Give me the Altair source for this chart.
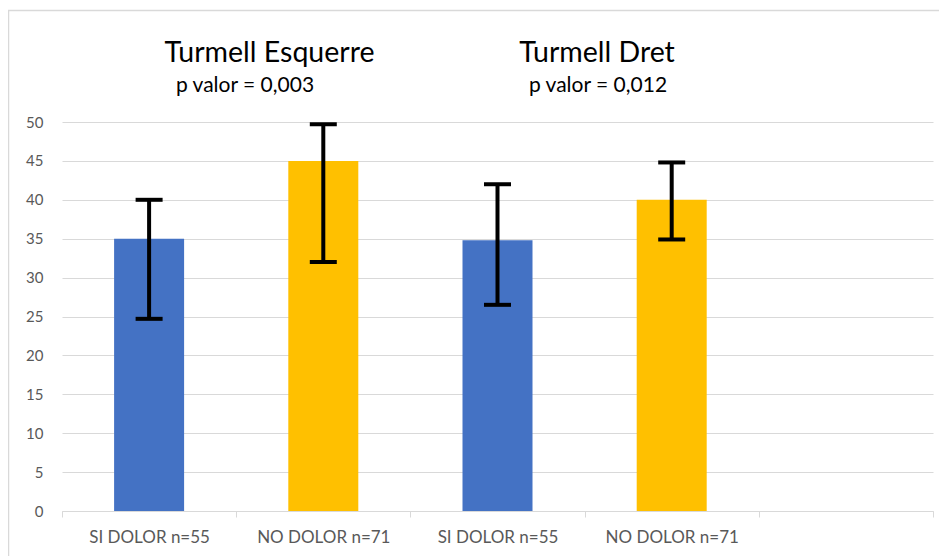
import altair as alt
import pandas as pd

# ---- data ----
slots = ["esq_si", "esq_no", "dret_si", "dret_no", "buit"]
slot_labels = ["SI DOLOR n=55", "NO DOLOR n=71", "SI DOLOR n=55", "NO DOLOR n=71", ""]
bar_slots = ["esq_si", "esq_no", "dret_si", "dret_no"]
groups = ["SI DOLOR", "NO DOLOR", "SI DOLOR", "NO DOLOR"]
means = [35.0, 45.0, 34.8, 40.0]
err_low = [24.7, 32.0, 26.5, 34.9]
err_high = [40.0, 49.7, 42.0, 44.8]
group_names = ["SI DOLOR", "NO DOLOR"]
group_colors = ["#4472C4", "#FFC000"]
titles = ["Turmell Esquerre", "Turmell Dret"]
pvalues = ["p valor = 0,003", "p valor = 0,012"]
y_ticks = [0, 5, 10, 15, 20, 25, 30, 35, 40, 45, 50]

FONT = "Lato"
GRID = "#d9d9d9"
LABEL = "#595959"

df = pd.DataFrame({
    "slot": bar_slots,
    "grup": groups,
    "mitjana": means,
    "baix": err_low,
    "alt": err_high,
})

label_expr = "''"
for s, l in reversed(list(zip(slots, slot_labels))):
    label_expr = f"datum.value == '{s}' ? '{l}' : ({label_expr})"

x_scale = alt.Scale(domain=slots, paddingInner=0, paddingOuter=0)
x_axis = alt.Axis(
    title=None, labelExpr=label_expr, labelAngle=0, tickBand="extent",
    domainColor=GRID, tickColor=GRID, tickSize=6, labelPadding=12,
    labelFont=FONT, labelFontSize=17, labelColor=LABEL, grid=False,
)
y_scale = alt.Scale(domain=[0, 50], nice=False)
y_axis = alt.Axis(
    title=None, values=y_ticks, grid=True, gridColor=GRID, domain=False,
    ticks=False, labelPadding=19, labelFont=FONT, labelFontSize=15,
    labelColor=LABEL, labelOverlap=False,
)


def X():
    return alt.X("slot:N", scale=x_scale, axis=x_axis)


def Y(field):
    return alt.Y(f"{field}:Q", scale=y_scale, axis=y_axis)


base = alt.Chart(df)

bars = base.mark_bar(size=70).encode(
    x=X(),
    y=Y("mitjana"),
    color=alt.Color("grup:N", scale=alt.Scale(domain=group_names, range=group_colors), legend=None),
)

rules = base.mark_rule(strokeWidth=4, color="black", opacity=1).encode(
    x=X(), y=Y("baix"), y2="alt:Q",
)
caps_low = base.mark_tick(size=27, thickness=4, color="black", opacity=1).encode(
    x=X(), y=Y("baix")
)
caps_high = base.mark_tick(size=27, thickness=4, color="black", opacity=1).encode(
    x=X(), y=Y("alt")
)

one = pd.DataFrame({"k": [0]})
frame = alt.Chart(one).mark_rect(fillOpacity=0, stroke=GRID, strokeWidth=1.5).encode(
    x=alt.value(-53.5), x2=alt.value(1200), y=alt.value(-111.5), y2=alt.value(900)
)

title_pos = [(269.5 - 62, -60), (597 - 62, -60)]
pval_pos = [(245 - 62, -30), (598 - 62, -30)]
texts = []
for t, (px, py) in zip(titles, title_pos):
    texts.append(
        alt.Chart(pd.DataFrame({"t": [t]})).mark_text(
            font=FONT, fontSize=28.5, color="black", align="center", baseline="alphabetic"
        ).encode(text="t:N", x=alt.value(px), y=alt.value(py))
    )
for t, (px, py) in zip(pvalues, pval_pos):
    texts.append(
        alt.Chart(pd.DataFrame({"t": [t]})).mark_text(
            font=FONT, fontSize=21, color="black", align="center", baseline="alphabetic"
        ).encode(text="t:N", x=alt.value(px), y=alt.value(py))
    )

chart = alt.layer(bars, rules, caps_low, caps_high, frame, *texts).properties(
    width=871,
    height=389,
    autosize=alt.AutoSizeParams(type="none"),
    padding={"left": 54, "top": 114, "right": 6, "bottom": 45},
    background="white",
).configure_view(stroke=None)

chart.save("out.html", embed_options={"renderer": "svg", "actions": False})
